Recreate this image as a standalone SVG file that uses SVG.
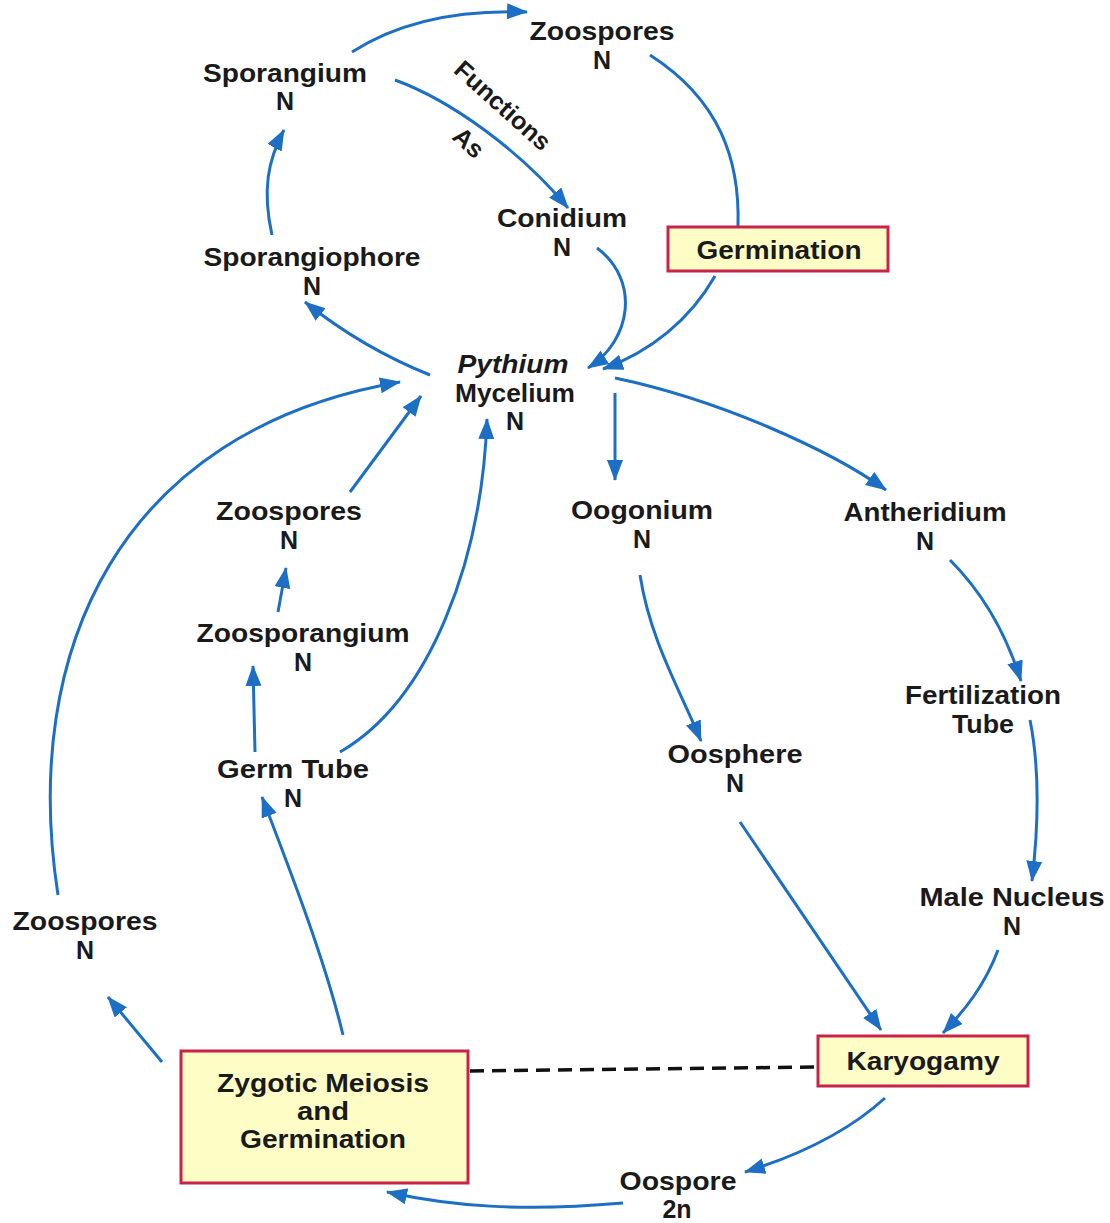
<svg xmlns="http://www.w3.org/2000/svg" width="1110" height="1223" viewBox="0 0 1110 1223">
<style>
.t{font-family:"Liberation Sans",Arial,sans-serif;font-size:25px;font-weight:bold;fill:#1a1a1a;text-anchor:middle}
.i{font-style:italic}
.box{fill:#FFFDC6;stroke:#C8234A;stroke-width:3}
.c{fill:none;stroke:#1C6FC4;stroke-width:3;marker-end:url(#ah)}
.n{fill:none;stroke:#1C6FC4;stroke-width:3}
.d{fill:none;stroke:#111;stroke-width:3.5;stroke-dasharray:14 8}
</style>
<defs>
<marker id="ah" markerUnits="userSpaceOnUse" markerWidth="22" markerHeight="18" refX="20" refY="8" orient="auto">
<path d="M0,0 L21,8 L0,16 z" fill="#1C6FC4"/>
</marker>
</defs>
<rect width="1110" height="1223" fill="#fff"/>
<g id="connectors">
<path class="c" d="M352,52 Q420,8 527,12"/>
<path class="c" d="M395,80 C450,100 520,150 568,208"/>
<path class="c" d="M597,248 C640,280 632,340 588,368"/>
<path class="n" d="M650,55 C720,100 740,160 738,226"/>
<path class="c" d="M715,276 C690,320 650,352 603,369"/>
<path class="c" d="M272,235 C262,190 268,160 284,130"/>
<path class="c" d="M430,375 C380,355 340,330 305,302"/>
<path class="c" d="M615,378 C720,400 830,450 886,490"/>
<path class="c" d="M615,393 L615,480"/>
<path class="c" d="M640,575 C650,640 680,690 701,741"/>
<path class="c" d="M950,560 C980,590 1005,630 1021,681"/>
<path class="c" d="M1030,720 C1040,770 1038,830 1032,881"/>
<path class="c" d="M740,822 L881,1030"/>
<path class="c" d="M998,950 C985,985 965,1010 943,1033"/>
<path class="c" d="M885,1098 C850,1130 800,1155 745,1172"/>
<path class="c" d="M623,1203 C520,1212 450,1206 387,1192"/>
<path class="c" d="M162,1062 L108,997"/>
<path class="c" d="M58,895 C20,650 120,430 400,382"/>
<path class="c" d="M343,1035 C325,960 290,870 262,797"/>
<path class="c" d="M255,752 L253,666"/>
<path class="c" d="M278,612 L286,568"/>
<path class="c" d="M350,492 L421,396"/>
<path class="c" d="M340,752 C430,700 482,560 487,419"/>
<path class="d" d="M470,1071 L818,1067"/>
</g>
<g id="label-functions-as">
<text class="t" transform="translate(497,112) rotate(42)" textLength="120" lengthAdjust="spacingAndGlyphs">Functions</text>
<text class="t" transform="translate(463,149) rotate(42)">As</text>
</g>
<g id="zoospores-top"><text class="t" x="602" y="40" textLength="145" lengthAdjust="spacingAndGlyphs">Zoospores</text><text class="t" x="602" y="69">N</text></g>
<g id="sporangium"><text class="t" x="285" y="82" textLength="164" lengthAdjust="spacingAndGlyphs">Sporangium</text><text class="t" x="285" y="110">N</text></g>
<g id="conidium"><text class="t" x="562" y="227" textLength="130" lengthAdjust="spacingAndGlyphs">Conidium</text><text class="t" x="562" y="256">N</text></g>
<g id="sporangiophore"><text class="t" x="312" y="266" textLength="217" lengthAdjust="spacingAndGlyphs">Sporangiophore</text><text class="t" x="312" y="295">N</text></g>
<g id="germination"><rect class="box" x="668" y="227" width="220" height="44"/><text class="t" x="779" y="259" textLength="165" lengthAdjust="spacingAndGlyphs">Germination</text></g>
<g id="mycelium"><text class="t i" x="513" y="373" textLength="111" lengthAdjust="spacingAndGlyphs">Pythium</text><text class="t" x="515" y="402" textLength="120" lengthAdjust="spacingAndGlyphs">Mycelium</text><text class="t" x="515" y="430">N</text></g>
<g id="zoospores-mid"><text class="t" x="289" y="520" textLength="146" lengthAdjust="spacingAndGlyphs">Zoospores</text><text class="t" x="289" y="549">N</text></g>
<g id="oogonium"><text class="t" x="642" y="519" textLength="142" lengthAdjust="spacingAndGlyphs">Oogonium</text><text class="t" x="642" y="548">N</text></g>
<g id="antheridium"><text class="t" x="925" y="521" textLength="163" lengthAdjust="spacingAndGlyphs">Antheridium</text><text class="t" x="925" y="550">N</text></g>
<g id="zoosporangium"><text class="t" x="303" y="642" textLength="213" lengthAdjust="spacingAndGlyphs">Zoosporangium</text><text class="t" x="303" y="671">N</text></g>
<g id="fertilization-tube"><text class="t" x="983" y="704" textLength="156" lengthAdjust="spacingAndGlyphs">Fertilization</text><text class="t" x="983" y="733" textLength="62" lengthAdjust="spacingAndGlyphs">Tube</text></g>
<g id="oosphere"><text class="t" x="735" y="763" textLength="135" lengthAdjust="spacingAndGlyphs">Oosphere</text><text class="t" x="735" y="792">N</text></g>
<g id="germ-tube"><text class="t" x="293" y="778" textLength="152" lengthAdjust="spacingAndGlyphs">Germ Tube</text><text class="t" x="293" y="807">N</text></g>
<g id="male-nucleus"><text class="t" x="1012" y="906" textLength="185" lengthAdjust="spacingAndGlyphs">Male Nucleus</text><text class="t" x="1012" y="935">N</text></g>
<g id="zoospores-left"><text class="t" x="85" y="930" textLength="145" lengthAdjust="spacingAndGlyphs">Zoospores</text><text class="t" x="85" y="959">N</text></g>
<g id="karyogamy"><rect class="box" x="818" y="1036" width="210" height="50"/><text class="t" x="923" y="1070" textLength="153" lengthAdjust="spacingAndGlyphs">Karyogamy</text></g>
<g id="zygotic-meiosis"><rect class="box" x="181" y="1051" width="287" height="132"/><text class="t" x="323" y="1092" textLength="212" lengthAdjust="spacingAndGlyphs">Zygotic Meiosis</text><text class="t" x="323" y="1120" textLength="52" lengthAdjust="spacingAndGlyphs">and</text><text class="t" x="323" y="1148" textLength="166" lengthAdjust="spacingAndGlyphs">Germination</text></g>
<g id="oospore"><text class="t" x="678" y="1190" textLength="117" lengthAdjust="spacingAndGlyphs">Oospore</text><text class="t" x="677" y="1218">2n</text></g>
</svg>
